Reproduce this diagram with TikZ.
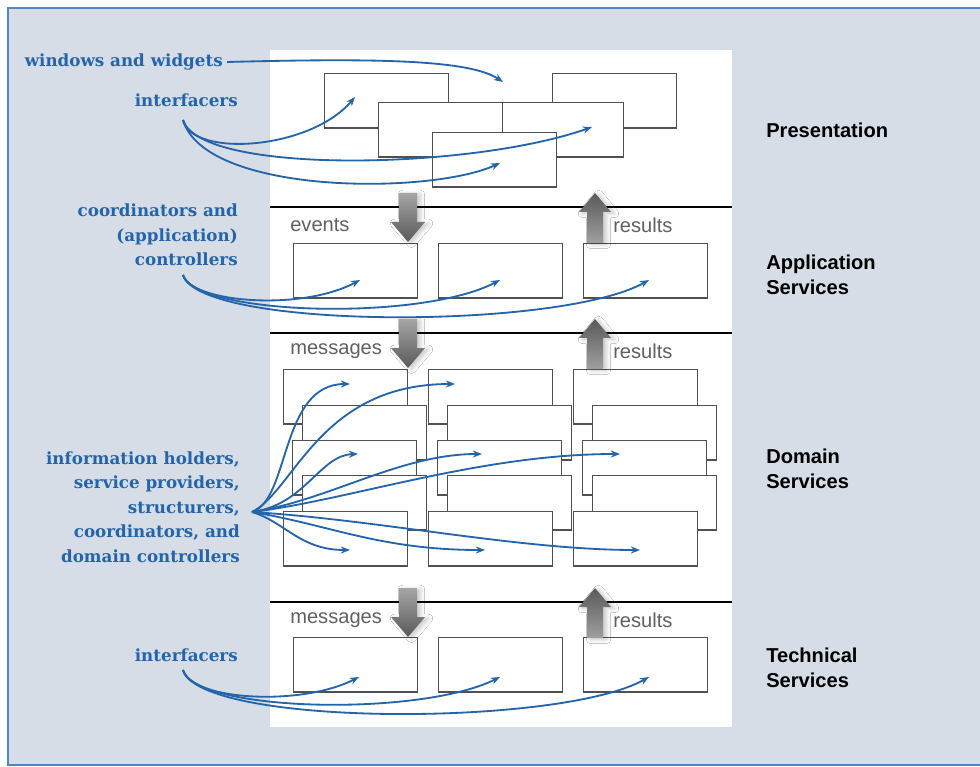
\documentclass[tikz,border=0pt]{standalone}
\usepackage{fontspec}
\setsansfont{Liberation Sans}
\newfontfamily\rolefont{DejaVu Serif}
\usetikzlibrary{arrows.meta,shadows.blur}
\definecolor{bgblue}{RGB}{214,221,231}
\definecolor{rimblue}{RGB}{80,135,195}
\definecolor{roleblue}{RGB}{35,100,170}
\definecolor{boxgray}{RGB}{80,80,80}
\tikzset{
  box/.style={draw=boxgray, fill=white, line width=1pt, minimum width=88pt, minimum height=38.5pt, inner sep=0pt, anchor=north west},
  role/.style={font=\rolefont\bfseries\fontsize{11.9}{17.4}\selectfont, text=roleblue, align=right, anchor=east, inner sep=0pt},
  layer/.style={font=\sffamily\bfseries\fontsize{14.3}{17.7}\selectfont, align=left, anchor=west, inner sep=0pt},
  flow/.style={font=\sffamily\fontsize{14.3}{17}\selectfont, text=gray!75!black, anchor=west, inner sep=0pt},
  link/.style={draw=roleblue, line width=1.3pt, -{Stealth[length=6.5pt,width=5pt]}},
  fat/.style={blur shadow={shadow xshift=2.5pt, shadow yshift=-1pt, shadow opacity=22, shadow blur steps=8, shadow blur radius=3pt}},
}
\begin{document}
\begin{tikzpicture}[x=0.025cm,y=-0.025cm]
  \useasboundingbox (0,0) rectangle (980,767);
  \fill[white] (0,0) rectangle (980,767);
  \draw[rimblue, line width=1pt, fill=bgblue] (8,8) rectangle (995,765);
  \fill[white] (270,50) rectangle (732,727);
  \foreach \ly in {207,333,602} \draw[line width=1.1pt] (270,\ly) -- (732,\ly);

  % presentation
  \node[box] (p1) at (324,73) {};
  \node[box] (p4) at (552,73) {};
  \node[box] (p2) at (378,102) {};
  \node[box, minimum width=85.8pt] (p3) at (502,102) {};
  \node[box] (p5) at (432,132) {};
  % application and technical services
  \foreach \i/\bx in {1/293,2/438,3/583} {
    \node[box] (a\i) at (\bx,243) {};
    \node[box] (t\i) at (\bx,637) {};
  }
  % domain services
  \foreach \col/\dx in {1/0,2/145,3/290}
    \foreach \row/\bx/\by in {a/283/369,b/302/405,c/292/440,d/302/475,e/283/511}
      \node[box] (d\col\row) at (\bx+\dx,\by) {};

  % calls down, results up
  \foreach \ly/\msg in {207/events,333/messages,602/messages} {
    \shade[fat, top color=gray!70, bottom color=gray!70!black]
      (399,\ly-14) -- (417,\ly-14) -- (417,\ly+15) -- (425,\ly+15) -- (408,\ly+35)
      -- (391,\ly+15) -- (399,\ly+15) -- cycle;
    \shade[fat, top color=gray!70!black, bottom color=gray!75]
      (587,\ly+36) -- (603,\ly+36) -- (603,\ly+5) -- (611,\ly+5) -- (595,\ly-14)
      -- (579,\ly+5) -- (587,\ly+5) -- cycle;
    \node[flow] (call\ly) at (290,\ly+18) {\msg};
    \node[flow] (res\ly) at (613,\ly+18) {results};
  }

  % layer names
  \node[layer] (pres) at (766,130) {Presentation};
  \node[layer] (appl) at (766,274.5) {Application\\Services};
  \node[layer] (dom) at (766,469) {Domain\\Services};
  \node[layer] (tech) at (766,667.5) {Technical\\Services};

  % roles
  \node[role] (ww) at (223,62) {windows and widgets};
  \node[role] (intf) at (238,100) {interfacers};
  \node[role] (coord) at (238,235) {coordinators and\\(application)\\controllers};
  \node[role] (info) at (240,507) {information holders,\\service providers,\\structurers,\\coordinators, and\\domain controllers};
  \node[role] (tintf) at (238,655) {interfacers};

  \coordinate (s1) at (183,120);
  \coordinate (s2) at (183,275);
  \coordinate (s3) at (252,512);
  \coordinate (s4) at (183,670);

  \draw[link] ([xshift=3pt]ww.east) .. controls (380,58) and (470,60) .. (503,82);
  \draw[link] (s1) .. controls (192,158) and (310,150) .. (355,97);
  \draw[link] (s1) .. controls (200,175) and (470,170) .. (592,127);
  \draw[link] (s1) .. controls (205,195) and (430,195) .. (500,163);

  \draw[link] (s2) .. controls (190,302) and (300,312) .. (360,280);
  \draw[link] (s2) .. controls (195,315) and (420,322) .. (500,280);
  \draw[link] (s2) .. controls (200,330) and (560,330) .. (649,280);

  \draw[link] (s3) .. controls (290,500) and (280,384) .. (350,384);
  \draw[link] (s3) .. controls (295,490) and (320,384) .. (455,384);
  \draw[link] (s3) .. controls (305,505) and (320,455) .. (358,454);
  \draw[link] (s3) .. controls (330,500) and (400,454) .. (482,454);
  \draw[link] (s3) .. controls (350,500) and (480,454) .. (620,454);
  \draw[link] (s3) .. controls (285,522) and (300,550) .. (350,550);
  \draw[link] (s3) .. controls (330,525) and (380,550) .. (485,550);
  \draw[link] (s3) .. controls (380,520) and (520,550) .. (640,550);

  \draw[link] (s4) .. controls (190,700) and (300,707) .. (359,677);
  \draw[link] (s4) .. controls (195,712) and (420,717) .. (500,677);
  \draw[link] (s4) .. controls (200,727) and (560,727) .. (649,677);
\end{tikzpicture}
\end{document}
